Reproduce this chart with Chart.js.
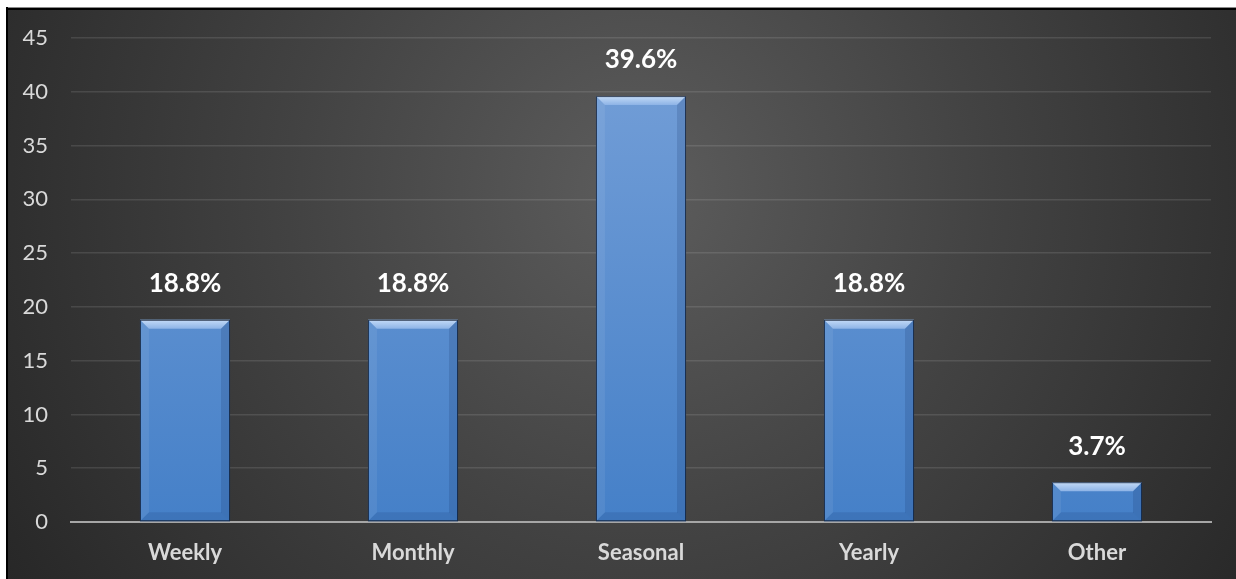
<!DOCTYPE html>
<html>
<head>
<meta charset="utf-8">
<script src="https://cdn.jsdelivr.net/npm/chart.js@4.4.1/dist/chart.umd.min.js"></script>
<style>
  html, body { margin:0; padding:0; background:#fff; }
  canvas { display:block; }
</style>
</head>
<body>
<canvas id="freqChart" width="1236" height="579"></canvas>
<script>
// -------------------- DATA --------------------
const categories = ["Weekly", "Monthly", "Seasonal", "Yearly", "Other"];
const shares = [18.8, 18.8, 39.6, 18.8, 3.7];
const yTicks = [0, 5, 10, 15, 20, 25, 30, 35, 40, 45];

const FONT = "Lato, 'Open Sans', sans-serif";
const TEXT_GRAY = "#d9d9d9";

// -------------------- BACKGROUND + FRAME --------------------
const frameBg = {
    id: "frameBg",
    beforeDraw(chart){
        const c = chart.ctx, w = chart.width, h = chart.height;
        c.save();
        c.fillStyle = "#fff";
        c.fillRect(0, 0, w, h);
        const g = c.createRadialGradient(640, 190, 20, 640, 190, 760);
        g.addColorStop(0, "#5b5b5b");
        g.addColorStop(0.45, "#424242");
        g.addColorStop(1, "#262626");
        c.fillStyle = g;
        c.fillRect(6, 7, w - 6, h - 7);
        c.fillStyle = "#8a8a8a";
        c.fillRect(6, 7, w - 6, 1);
        c.fillStyle = "#000";
        c.fillRect(6, 8, w - 6, 2);
        c.fillRect(6, 7, 2, h - 7);
        c.restore();
    }
};

// -------------------- BEVEL + LABELS --------------------
const bevelBars = {
    id: "bevelBars",
    afterDatasetsDraw(chart){
        const c = chart.ctx;
        const meta = chart.getDatasetMeta(0);
        c.save();
        meta.data.forEach((bar, i) => {
            const l = bar.x - bar.width/2, r = bar.x + bar.width/2;
            const t = bar.y, b = bar.base;
            const bv = Math.min(9, (b - t)/2);
            // top bevel
            const tg = c.createLinearGradient(0, t, 0, t + bv);
            tg.addColorStop(0, "#c4dbf7");
            tg.addColorStop(1, "#8db3e6");
            c.fillStyle = tg;
            c.beginPath();
            c.moveTo(l, t); c.lineTo(r, t); c.lineTo(r - bv, t + bv); c.lineTo(l + bv, t + bv); c.closePath();
            c.fill();
            // left bevel
            c.fillStyle = "rgba(255,255,255,0.07)";
            c.beginPath();
            c.moveTo(l, t); c.lineTo(l + bv, t + bv); c.lineTo(l + bv, b - bv); c.lineTo(l, b); c.closePath();
            c.fill();
            // right bevel
            c.fillStyle = "rgba(20,50,100,0.18)";
            c.beginPath();
            c.moveTo(r, t); c.lineTo(r - bv, t + bv); c.lineTo(r - bv, b - bv); c.lineTo(r, b); c.closePath();
            c.fill();
            // bottom bevel
            c.fillStyle = "rgba(20,50,100,0.15)";
            c.beginPath();
            c.moveTo(l, b); c.lineTo(l + bv, b - bv); c.lineTo(r - bv, b - bv); c.lineTo(r, b); c.closePath();
            c.fill();
            // dark outline
            c.strokeStyle = "rgba(10,20,40,0.75)";
            c.lineWidth = 1;
            c.strokeRect(l + 0.5, t + 0.5, r - l - 1, b - t - 1);

            // value label
            c.fillStyle = "#fff";
            c.font = "bold 26px " + FONT;
            c.textAlign = "center";
            c.textBaseline = "middle";
            c.fillText(shares[i].toFixed(1) + "%", bar.x, t - 36);
        });
        c.restore();
    }
};

// -------------------- CHART --------------------
const ctx = document.getElementById("freqChart").getContext("2d");
new Chart(ctx, {
    type: "bar",
    data: {
        labels: categories,
        datasets: [{
            data: shares,
            backgroundColor: (context) => {
                const area = context.chart.chartArea;
                if(!area) return "#5b8fd0";
                const g = context.chart.ctx.createLinearGradient(0, area.top, 0, area.bottom);
                g.addColorStop(0, "#76a0d8");
                g.addColorStop(1, "#4580c8");
                return g;
            },
            borderWidth: 0,
            categoryPercentage: 1,
            barPercentage: 0.395
        }]
    },
    options: {
        responsive: false,
        animation: false,
        layout: { padding: { top: 38, right: 25, left: 0, bottom: 0 } },
        plugins: { legend: { display: false }, tooltip: { enabled: false } },
        scales: {
            x: {
                grid: { display: false, drawTicks: false },
                border: { display: true, color: "#a6a6a6", width: 2 },
                ticks: { color: TEXT_GRAY, font: { family: FONT, size: 22, weight: "bold" }, padding: 18 },
                afterFit(scale){ scale.height = 57; }
            },
            y: {
                min: 0, max: 45,
                afterBuildTicks(scale){ scale.ticks = yTicks.map(v => ({ value: v })); },
                grid: { color: "rgba(255,255,255,0.11)", lineWidth: 1.5, drawTicks: false },
                border: { display: false },
                ticks: { color: TEXT_GRAY, font: { family: FONT, size: 22 }, padding: 23 },
                afterFit(scale){ scale.width = 71; }
            }
        }
    },
    plugins: [frameBg, bevelBars]
});
</script>
</body>
</html>
